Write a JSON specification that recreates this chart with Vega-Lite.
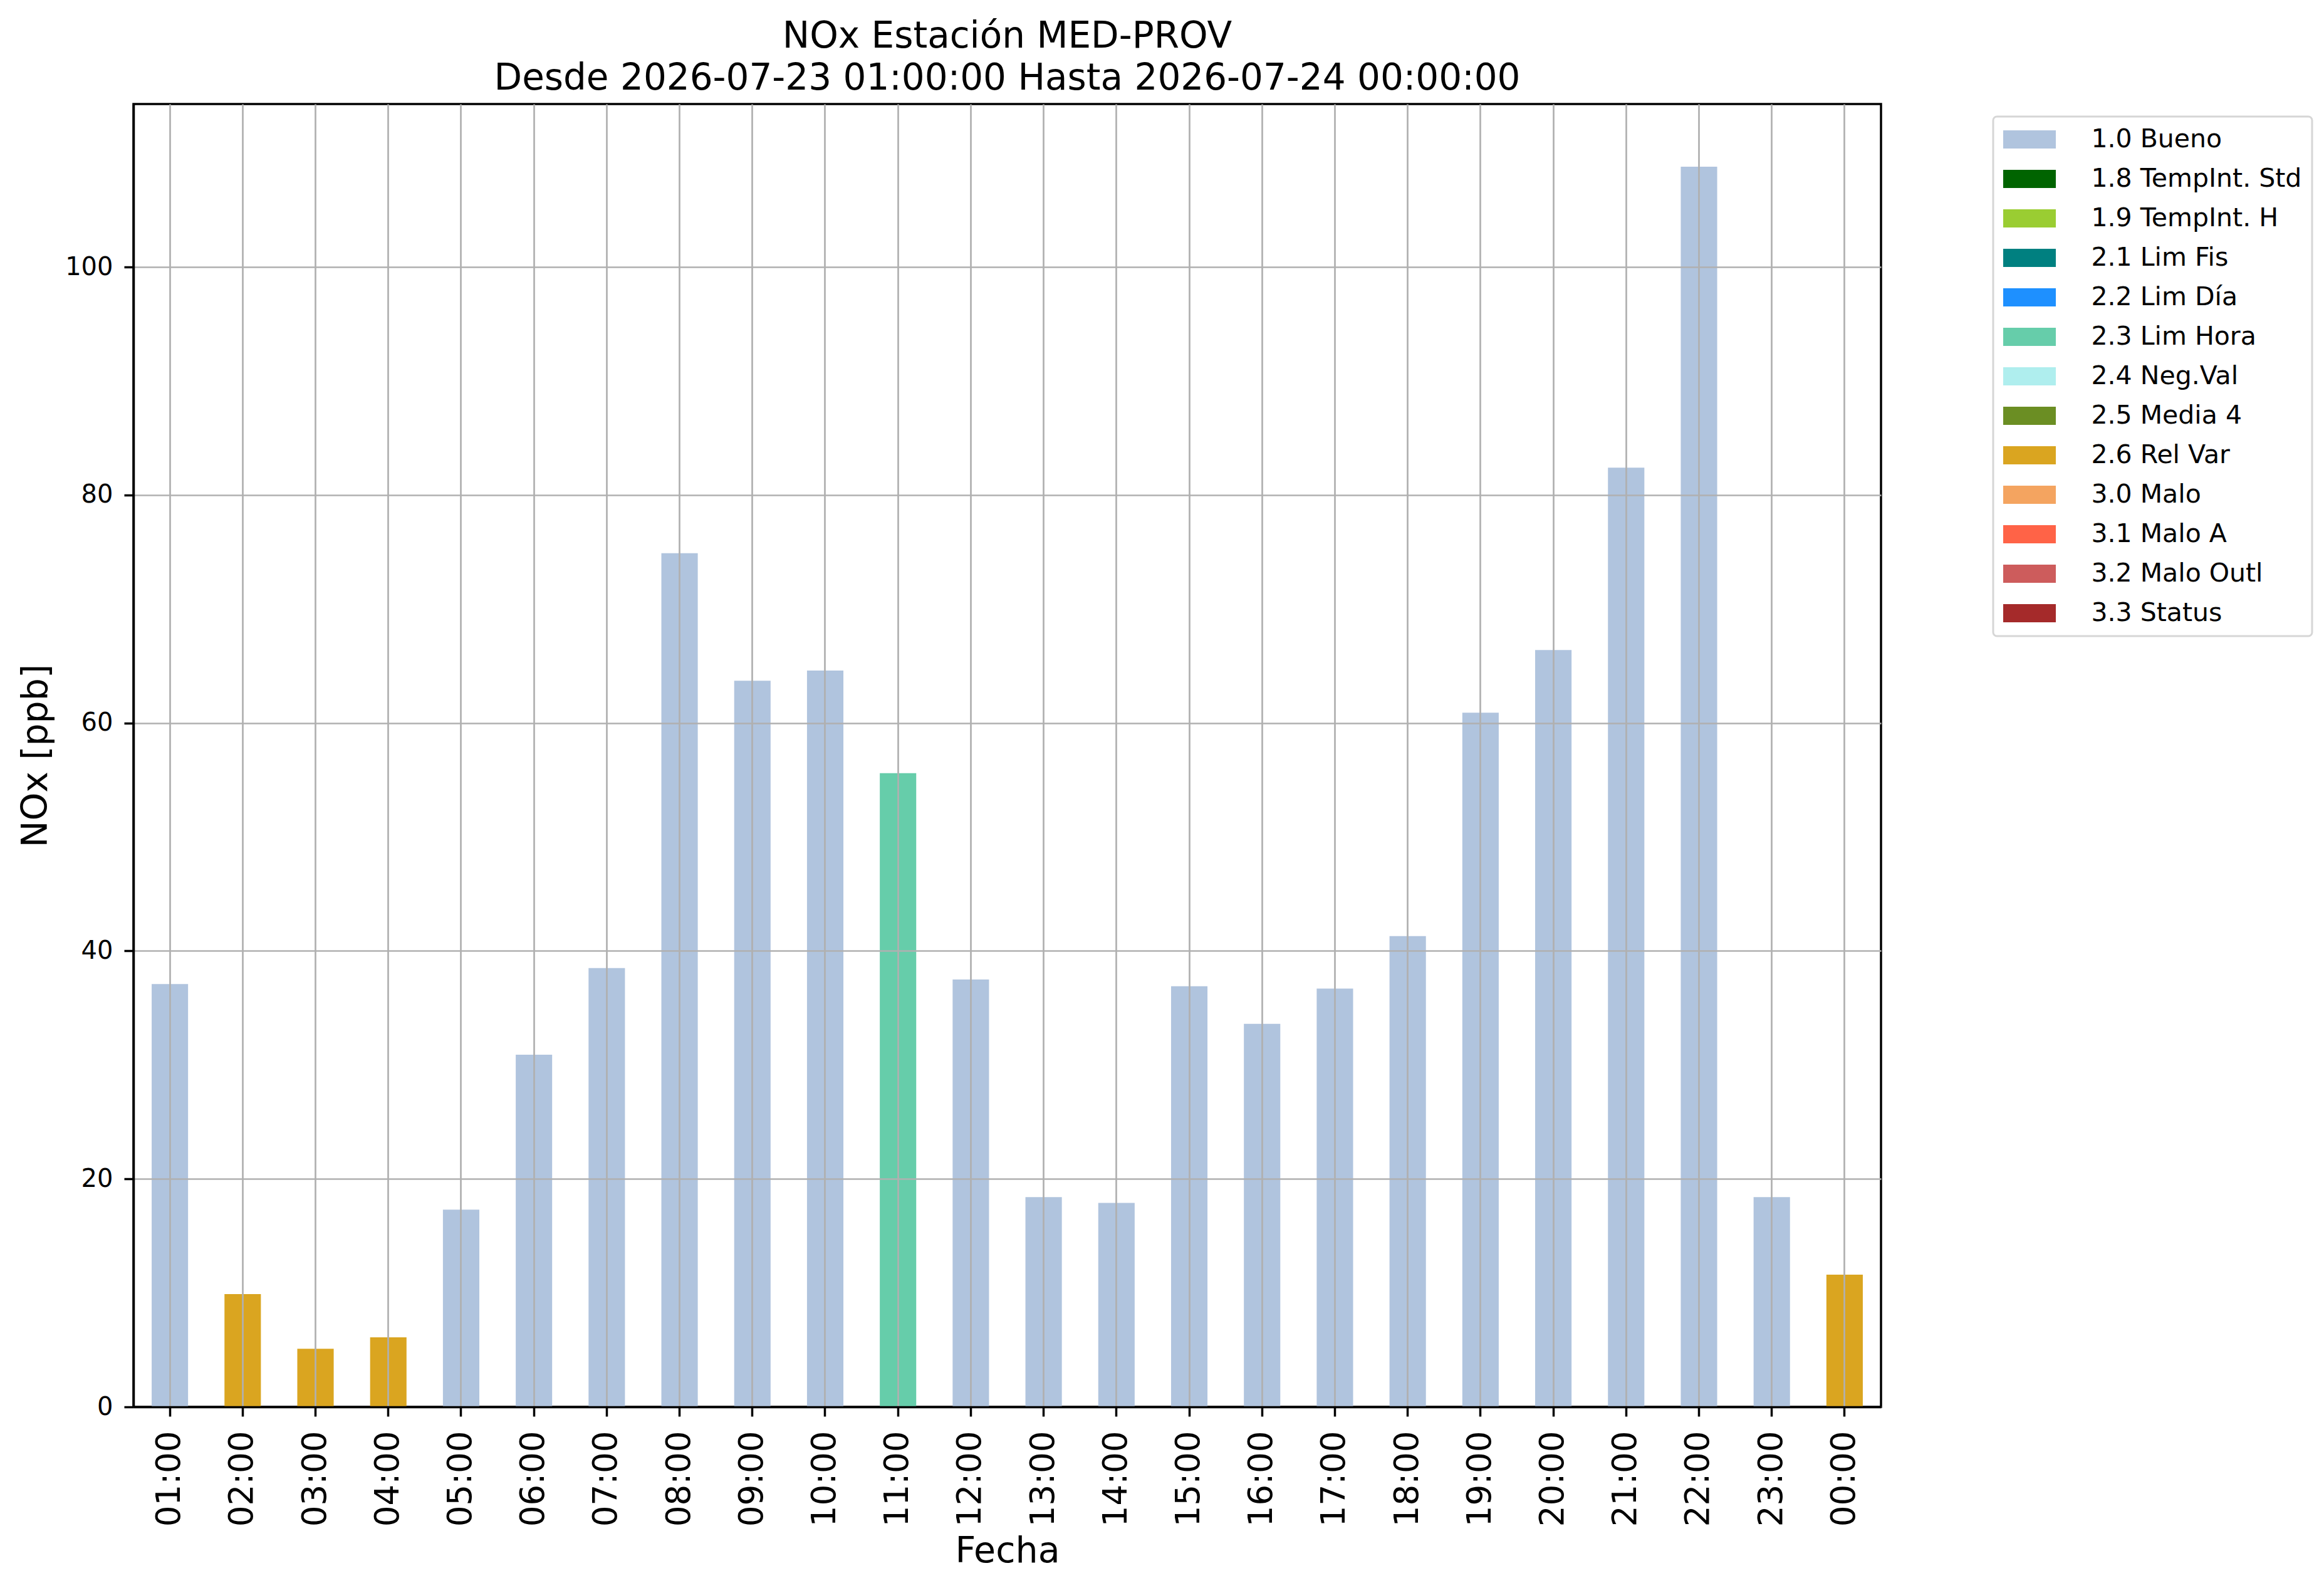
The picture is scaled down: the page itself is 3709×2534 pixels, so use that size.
{
  "$schema": "https://vega.github.io/schema/vega-lite/v6.json",
  "autosize": {"type": "none"},
  "padding": {"left": 213, "top": 166, "right": 707, "bottom": 289},
  "width": 2789,
  "height": 2079,
  "background": "white",
  "title": {
    "text": ["NOx Estación MED-PROV", "Desde 2026-07-23 01:00:00 Hasta 2026-07-24 00:00:00"],
    "font": "DejaVu Sans",
    "fontSize": 58,
    "fontWeight": "normal",
    "lineHeight": 67,
    "color": "black",
    "anchor": "middle",
    "frame": "group",
    "offset": 11
  },
  "data": {
    "values": [
      {"hora": "01:00", "nox": 37.1, "flag": "1.0 Bueno"},
      {"hora": "02:00", "nox": 9.9, "flag": "2.6 Rel Var"},
      {"hora": "03:00", "nox": 5.1, "flag": "2.6 Rel Var"},
      {"hora": "04:00", "nox": 6.1, "flag": "2.6 Rel Var"},
      {"hora": "05:00", "nox": 17.3, "flag": "1.0 Bueno"},
      {"hora": "06:00", "nox": 30.9, "flag": "1.0 Bueno"},
      {"hora": "07:00", "nox": 38.5, "flag": "1.0 Bueno"},
      {"hora": "08:00", "nox": 74.9, "flag": "1.0 Bueno"},
      {"hora": "09:00", "nox": 63.7, "flag": "1.0 Bueno"},
      {"hora": "10:00", "nox": 64.6, "flag": "1.0 Bueno"},
      {"hora": "11:00", "nox": 55.6, "flag": "2.3 Lim Hora"},
      {"hora": "12:00", "nox": 37.5, "flag": "1.0 Bueno"},
      {"hora": "13:00", "nox": 18.4, "flag": "1.0 Bueno"},
      {"hora": "14:00", "nox": 17.9, "flag": "1.0 Bueno"},
      {"hora": "15:00", "nox": 36.9, "flag": "1.0 Bueno"},
      {"hora": "16:00", "nox": 33.6, "flag": "1.0 Bueno"},
      {"hora": "17:00", "nox": 36.7, "flag": "1.0 Bueno"},
      {"hora": "18:00", "nox": 41.3, "flag": "1.0 Bueno"},
      {"hora": "19:00", "nox": 60.9, "flag": "1.0 Bueno"},
      {"hora": "20:00", "nox": 66.4, "flag": "1.0 Bueno"},
      {"hora": "21:00", "nox": 82.4, "flag": "1.0 Bueno"},
      {"hora": "22:00", "nox": 108.8, "flag": "1.0 Bueno"},
      {"hora": "23:00", "nox": 18.4, "flag": "1.0 Bueno"},
      {"hora": "00:00", "nox": 11.6, "flag": "2.6 Rel Var"}
    ]
  },
  "mark": {"type": "bar"},
  "encoding": {
    "x": {
      "field": "hora",
      "type": "ordinal",
      "sort": null,
      "scale": {"paddingInner": 0.5, "paddingOuter": 0.25},
      "axis": {
        "title": "Fecha",
        "titleFont": "DejaVu Sans",
        "titleFontSize": 57,
        "titleFontWeight": "normal",
        "titleColor": "black",
        "titleBaseline": "alphabetic",
        "titleY": 247,
        "labelFont": "DejaVu Sans",
        "labelFontSize": 53,
        "labelColor": "black",
        "labelAngle": 270,
        "labelAlign": "right",
        "labelBaseline": "middle",
        "labelPadding": 23,
        "bandPosition": 0.5,
        "tickSize": 15,
        "tickWidth": 3.5,
        "tickColor": "black",
        "domainColor": "black",
        "domainWidth": 3.5,
        "grid": true,
        "gridColor": "#b0b0b0",
        "gridWidth": 2.7,
        "zindex": 1
      }
    },
    "y": {
      "field": "nox",
      "type": "quantitative",
      "scale": {"domain": [0, 114.3], "nice": false},
      "axis": {
        "title": "NOx [ppb]",
        "titleFont": "DejaVu Sans",
        "titleFontSize": 57,
        "titleFontWeight": "normal",
        "titleColor": "black",
        "titleAngle": 270,
        "titleAlign": "center",
        "titleBaseline": "alphabetic",
        "titleX": -139,
        "titleY": 1039.5,
        "values": [0, 20, 40, 60, 80, 100],
        "labelFont": "DejaVu Sans",
        "labelFontSize": 40,
        "labelColor": "black",
        "labelPadding": 18,
        "tickSize": 15,
        "tickWidth": 3.5,
        "tickColor": "black",
        "domainColor": "black",
        "domainWidth": 3.5,
        "grid": true,
        "gridColor": "#b0b0b0",
        "gridWidth": 2.7,
        "zindex": 1
      }
    },
    "color": {
      "field": "flag",
      "type": "nominal",
      "scale": {
        "domain": ["1.0 Bueno", "1.8 TempInt. Std", "1.9 TempInt. H", "2.1 Lim Fis", "2.2 Lim Día", "2.3 Lim Hora", "2.4 Neg.Val", "2.5 Media 4", "2.6 Rel Var", "3.0 Malo", "3.1 Malo A", "3.2 Malo Outl", "3.3 Status"],
        "range": ["#b0c4de", "#006400", "#9acd32", "#008080", "#1e90ff", "#66cdaa", "#afeeee", "#6b8e23", "#daa520", "#f4a460", "#ff6347", "#cd5c5c", "#a52a2a"]
      },
      "legend": {
        "title": null,
        "orient": "none",
        "legendX": 2968,
        "legendY": 20,
        "padding": 16,
        "strokeColor": "#d6d6d6",
        "cornerRadius": 6,
        "fillColor": "white",
        "symbolType": "M-2.1,-0.725L2.1,-0.725L2.1,0.725L-2.1,0.725Z",
        "symbolSize": 1600,
        "symbolStrokeWidth": 0,
        "symbolOpacity": 1,
        "symbolOffset": 21.5,
        "labelOffset": 78,
        "labelFont": "DejaVu Sans",
        "labelFontSize": 41,
        "labelColor": "black",
        "labelLimit": 1000,
        "rowPadding": 21,
        "encode": {
          "legend": {"update": {"strokeWidth": {"value": 3}}}
        }
      }
    }
  },
  "config": {
    "view": {"stroke": "black", "strokeWidth": 3.5},
    "font": "DejaVu Sans"
  }
}
